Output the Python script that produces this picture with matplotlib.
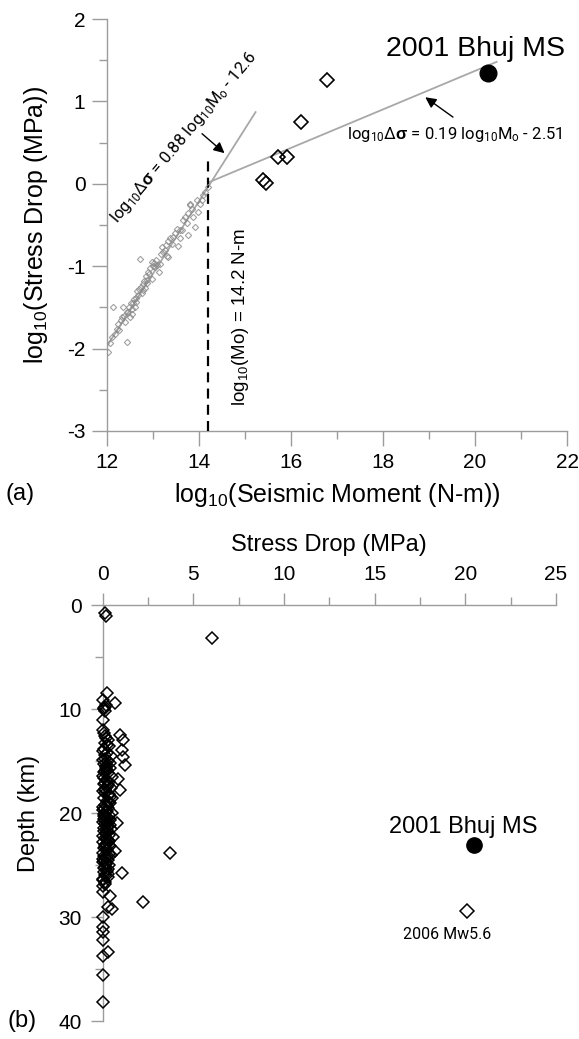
import numpy as np
import matplotlib
matplotlib.use('Agg')
import matplotlib.pyplot as plt
from matplotlib.ticker import MultipleLocator

plt.rcParams['font.family'] = ['Liberation Sans', 'DejaVu Sans']
plt.rcParams['mathtext.fontset'] = 'custom'
plt.rcParams['mathtext.rm'] = 'Liberation Sans'
plt.rcParams['mathtext.it'] = 'Liberation Sans:italic'
plt.rcParams['mathtext.bf'] = 'Liberation Sans:bold'
plt.rcParams['mathtext.default'] = 'regular'
plt.rcParams['axes.unicode_minus'] = False

# ---- panel (a): log10 seismic moment vs log10 stress drop ----
small_logm = [12.03, 12.06, 12.10, 12.14, 12.17, 12.21, 12.24, 12.27, 12.30, 12.32,
              12.35, 12.38, 12.40, 12.43, 12.44, 12.46, 12.48, 12.50, 12.52, 12.54,
              12.55, 12.57, 12.58, 12.60, 12.62, 12.64, 12.66, 12.68, 12.70, 12.72,
              12.74, 12.76, 12.78, 12.79, 12.81, 12.83, 12.85, 12.86, 12.88, 12.90,
              12.92, 12.94, 12.97, 12.97, 13.00, 13.02, 13.04, 13.06, 13.08, 13.12,
              13.15, 13.17, 13.19, 13.22, 13.25, 13.28, 13.30, 13.33, 13.33, 13.36,
              13.41, 13.44, 13.48, 13.52, 13.55, 13.59, 13.59, 13.62, 13.66, 13.70,
              13.73, 13.77, 13.77, 13.80, 13.80, 13.84, 13.88, 13.91, 13.95, 13.98,
              14.02, 14.06, 14.09, 14.13, 14.20]
small_logsd = [-2.04, -1.93, -1.86, -1.50, -1.82, -1.76, -1.70, -1.78, -1.65, -1.62,
               -1.50, -1.60, -1.68, -1.92, -1.55, -1.56, -1.50, -1.62, -1.45, -1.52,
               -1.58, -1.45, -1.40, -1.50, -1.38, -1.44, -1.30, -1.35, -1.28, -0.91,
               -1.25, -1.32, -1.22, -1.29, -1.18, -1.26, -1.12, -1.17, -1.20, -1.07,
               -1.10, -1.02, -0.95, -1.15, -1.00, -0.96, -1.01, -0.92, -0.98, -1.07,
               -0.97, -0.85, -0.77, -0.83, -0.80, -0.74, -0.88, -0.69, -0.89, -0.66,
               -0.73, -0.64, -0.60, -0.55, -0.75, -0.56, -0.66, -0.56, -0.44, -0.40,
               -0.48, -0.62, -0.36, -0.24, -0.26, -0.30, -0.40, -0.52, -0.20, -0.34,
               -0.24, -0.20, -0.14, -0.10, -0.04]

big_logm = [15.39, 15.46, 15.72, 15.92, 16.22, 16.78]
big_logsd = [0.05, 0.01, 0.33, 0.33, 0.75, 1.26]

bhuj_logm = 20.28
bhuj_logsd = 1.35

fit1_x = [12.0, 15.23]
fit1_y = [-1.97, 0.87]
fit2_x = [14.22, 20.47]
fit2_y = [0.02, 1.48]
break_logm = 14.2

# ---- panel (b): stress drop vs depth ----
sd_b = [0.10, 0.20, 6.01, 0.22, 0.68, 0.00, 0.05, 0.12, 0.03, 0.03, 0.95, 1.14,
        1.05, 1.23, 1.14, 0.86, 0.95, 0.50, 0.77, 0.58, 0.68, 3.71, 1.05, 0.02,
        0.40, 2.20, 0.50, 0.30, 0.03, 0.03, 0.03, 0.03, 0.00, 0.30, 0.03, 0.03,
        0.05, 0.20, 0.10, 0.35, 0.02, 0.25, 0.45, 0.10, 0.30, 0.05, 0.20, 0.40,
        0.12, 0.28, 0.02, 0.50, 0.18, 0.35, 0.08, 0.25, 0.45, 0.02, 0.15, 0.32,
        0.05, 0.22, 0.40, 0.10, 0.30, 0.02, 0.18, 0.50, 0.08, 0.28, 0.38, 0.03,
        0.15, 0.25, 0.45, 0.05, 0.20, 0.35, 0.10, 0.28, 0.02, 0.18, 0.42, 0.08,
        0.25, 0.35, 0.05, 0.15, 0.30, 0.02, 0.20, 0.10, 0.28, 0.05, 0.15, 0.02,
        0.10, 0.12, 0.30, 0.05, 0.15, 0.38, 0.22, 0.08, 0.30, 0.12, 0.40, 0.25,
        0.05, 0.32, 0.12, 0.40, 0.22, 0.02, 0.30, 0.15, 0.45, 0.08, 0.35, 0.22,
        0.30, 0.20, 0.08, 0.15,
        0.02, 0.18, 0.06, 0.26, 0.10, 0.34, 0.04, 0.22, 0.14, 0.30, 0.06, 0.20,
        0.36, 0.12, 0.03, 0.24, 0.16, 0.08, 0.28, 0.04, 0.18, 0.10, 0.32, 0.06,
        0.22, 0.02, 0.14, 0.26, 0.08, 0.04]
depth_b = [0.8, 1.1, 3.2, 8.5, 9.45, 9.1, 9.9, 10.2, 11.1, 12.0, 12.5, 13.0,
           13.9, 15.4, 14.6, 16.7, 17.8, 18.6, 21.0, 22.3, 23.7, 23.8, 25.8, 27.6,
           28.0, 28.6, 29.2, 29.0, 30.0, 31.0, 31.4, 32.2, 33.7, 33.4, 35.6, 38.2,
           12.3, 12.8, 13.3, 13.6, 14.0, 14.2, 14.5, 14.8, 15.0, 15.3, 15.5, 15.7,
           16.0, 16.2, 16.4, 16.5, 16.8, 17.0, 17.2, 17.5, 17.6, 17.9, 18.1, 18.3,
           18.6, 18.8, 19.0, 19.2, 19.5, 19.7, 19.9, 20.0, 20.3, 20.5, 20.7, 20.9,
           21.1, 21.3, 21.5, 21.7, 21.9, 22.1, 22.4, 22.6, 22.8, 23.0, 23.2, 23.4,
           23.6, 23.9, 24.1, 24.3, 24.5, 24.7, 24.9, 25.2, 25.4, 25.7, 26.0, 26.3,
           26.6, 12.6, 13.0, 13.8, 14.4, 15.2, 15.9, 16.6, 17.3, 17.8, 18.5, 19.3,
           20.1, 20.2, 20.8, 21.2, 21.6, 22.2, 22.9, 23.3, 24.0, 24.6, 25.0, 25.6,
           26.2, 9.6, 10.0, 9.8,
           14.9, 15.6, 16.1, 16.9, 17.7, 18.2, 19.4, 19.8, 20.4, 21.0, 21.4, 22.0,
           22.7, 23.1, 23.8, 24.2, 24.8, 25.3, 25.9, 26.4, 15.8, 17.1, 18.9, 20.6,
           22.5, 24.4, 26.8, 13.5, 19.6, 27.0]

bhuj_sd = 20.5
bhuj_depth = 23.1
ev2006_sd = 20.1
ev2006_depth = 29.4

grey = '#9c9c9c'
line_grey = '#a8a8a8'
narrow = ['Roboto', 'Liberation Sans']

fig = plt.figure(figsize=(5.79, 10.39), dpi=100)
ax1 = fig.add_axes([0.1848, 0.5852, 0.7945, 0.3965])
ax2 = fig.add_axes([0.1774, 0.0173, 0.7829, 0.4004])

# (a)
ax1.plot(fit1_x, fit1_y, color=line_grey, lw=1.3, zorder=2)
ax1.plot(fit2_x, fit2_y, color=line_grey, lw=1.3, zorder=2)
ax1.plot([break_logm, break_logm], [-3, 0.33], color='black', lw=1.6,
         linestyle=(0, (4.5, 2.8)), zorder=3, clip_on=False)
ax1.plot(small_logm, small_logsd, 'D', ms=3.2, mfc='none', mec='#8a8a8a', mew=0.8,
         alpha=0.8, zorder=3)
ax1.plot(big_logm, big_logsd, 'D', ms=7, mfc='none', mec='black', mew=1.2, zorder=4)
ax1.plot(bhuj_logm, bhuj_logsd, 'o', ms=12, color='black', zorder=5)

ax1.text(20.0, 1.63, '2001 Bhuj MS', fontsize=20.5, ha='center', va='center',
         clip_on=False)
ax1.text(13.67, 0.56, r'log$_{10}$Δ$\mathbf{σ}$ = 0.88 log$_{10}$M$_{o}$ - 12.6',
         fontsize=12, family=narrow, rotation=50, rotation_mode='anchor',
         ha='center', va='center')
ax1.text(19.57, 0.60, r'log$_{10}$Δ$\mathbf{σ}$ = 0.19 log$_{10}$M$_{o}$ - 2.51',
         fontsize=12, family=narrow, ha='center', va='center')
ax1.text(14.91, -1.62, r'log$_{10}$(Mo) = 14.2 N-m', fontsize=13.5, rotation=90,
         ha='center', va='center')
ax1.annotate('', xy=(14.60, 0.35), xytext=(14.02, 0.63),
             arrowprops=dict(arrowstyle='-|>', color='black', lw=1.0, mutation_scale=16))
ax1.annotate('', xy=(18.87, 1.07), xytext=(19.57, 0.79),
             arrowprops=dict(arrowstyle='-|>', color='black', lw=1.0, mutation_scale=16))

ax1.set_xlim(12, 22)
ax1.set_ylim(-3, 2)
ax1.xaxis.set_major_locator(MultipleLocator(2))
ax1.xaxis.set_minor_locator(MultipleLocator(1))
ax1.yaxis.set_major_locator(MultipleLocator(1))
ax1.yaxis.set_minor_locator(MultipleLocator(0.5))
for s in ['top', 'right']:
    ax1.spines[s].set_visible(False)
for s in ['left', 'bottom']:
    ax1.spines[s].set_color(grey)
    ax1.spines[s].set_linewidth(1.0)
ax1.tick_params(which='major', length=10.5, width=1.0, color=grey, labelsize=15, pad=5)
ax1.tick_params(which='minor', length=5.5, width=1.0, color=grey)
ax1.set_xlabel(r'log$_{10}$(Seismic Moment (N-m))', fontsize=18)
ax1.set_ylabel(r'log$_{10}$(Stress Drop (MPa))', fontsize=18)
ax1.xaxis.set_label_coords(0.5, -0.122)
ax1.yaxis.set_label_coords(-0.124, 0.5)

# (b)
ax2.plot(sd_b, depth_b, 'D', ms=6.3, mfc='none', mec='black', mew=1.1,
         clip_on=False, zorder=3)
ax2.plot(ev2006_sd, ev2006_depth, 'D', ms=6.8, mfc='none', mec='black', mew=1.1)
ax2.plot(bhuj_sd, bhuj_depth, 'o', ms=11, color='black')
ax2.text(19.9, 21.3, '2001 Bhuj MS', fontsize=17, ha='center', va='center')
ax2.text(18.97, 31.7, '2006 Mw5.6', fontsize=11.5, family=narrow,
         ha='center', va='center')

ax2.set_xlim(0, 25)
ax2.set_ylim(40, 0)
ax2.xaxis.tick_top()
ax2.xaxis.set_label_position('top')
ax2.xaxis.set_major_locator(MultipleLocator(5))
ax2.xaxis.set_minor_locator(MultipleLocator(2.5))
ax2.yaxis.set_major_locator(MultipleLocator(10))
ax2.yaxis.set_minor_locator(MultipleLocator(5))
for s in ['bottom', 'right']:
    ax2.spines[s].set_visible(False)
for s in ['left', 'top']:
    ax2.spines[s].set_color(grey)
    ax2.spines[s].set_linewidth(1.0)
ax2.tick_params(which='major', length=9, width=1.0, color=grey, labelsize=15, pad=6)
ax2.tick_params(which='minor', length=5.5, width=1.0, color=grey)
ax2.set_xlabel('Stress Drop (MPa)', fontsize=17)
ax2.set_ylabel('Depth (km)', fontsize=17)
ax2.xaxis.set_label_coords(0.5, 1.13)
ax2.yaxis.set_label_coords(-0.138, 0.5)

fig.text(20 / 579, 1 - 494 / 1039, '(a)', fontsize=17, ha='center', va='center')
fig.text(22 / 579, 1 - 1021 / 1039, '(b)', fontsize=17, ha='center', va='center')

fig.savefig('out.png', dpi=100)
